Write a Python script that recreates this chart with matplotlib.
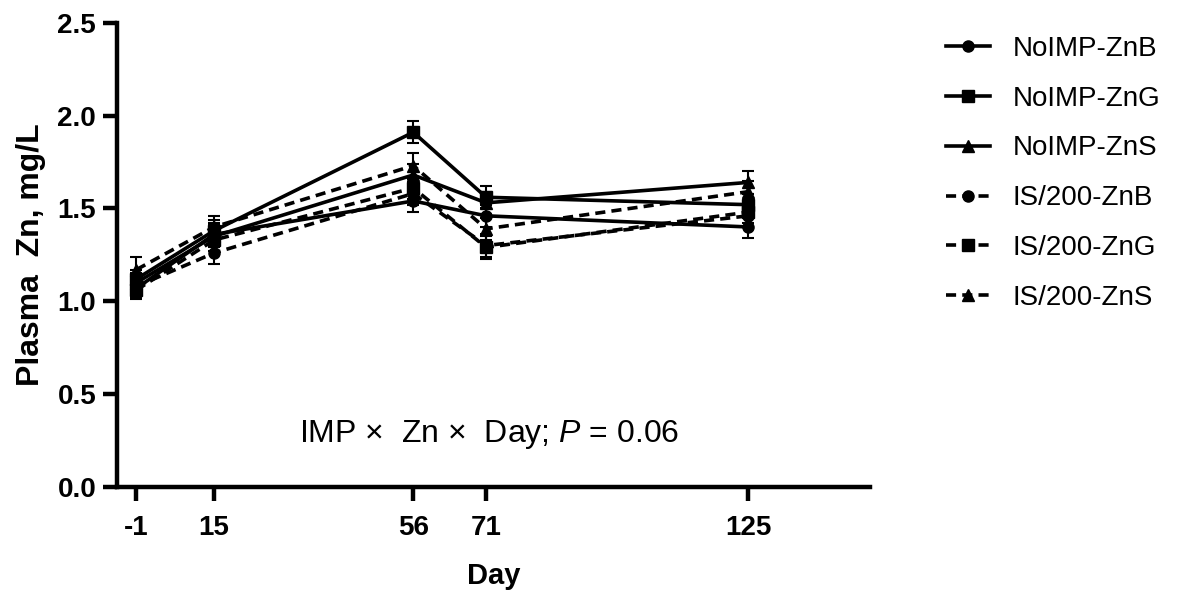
import matplotlib
matplotlib.use("Agg")
import matplotlib.pyplot as plt
from matplotlib.lines import Line2D

plt.rcParams['font.family'] = ['Liberation Sans', 'DejaVu Sans']
plt.rcParams['mathtext.fontset'] = 'custom'
plt.rcParams['mathtext.rm'] = 'Liberation Sans'
plt.rcParams['mathtext.it'] = 'Liberation Sans:italic'

days = [-1, 15, 56, 71, 125]
day_labels = ['-1', '15', '56', '71', '125']
labels = ['NoIMP-ZnB', 'NoIMP-ZnG', 'NoIMP-ZnS', 'IS/200-ZnB', 'IS/200-ZnG', 'IS/200-ZnS']

# mean plasma Zn (mg/L) per group
noimp_znb = [1.07, 1.36, 1.54, 1.46, 1.40]
noimp_zng = [1.12, 1.38, 1.91, 1.56, 1.52]
noimp_zns = [1.10, 1.35, 1.68, 1.53, 1.64]
is200_znb = [1.08, 1.26, 1.58, 1.30, 1.46]
is200_zng = [1.06, 1.33, 1.61, 1.29, 1.48]
is200_zns = [1.17, 1.40, 1.73, 1.39, 1.59]

# standard errors
noimp_znb_se = [0.05, 0.06, 0.06, 0.06, 0.06]
noimp_zng_se = [0.05, 0.06, 0.06, 0.06, 0.06]
noimp_zns_se = [0.05, 0.06, 0.06, 0.06, 0.06]
is200_znb_se = [0.05, 0.06, 0.06, 0.06, 0.06]
is200_zng_se = [0.05, 0.06, 0.06, 0.06, 0.06]
is200_zns_se = [0.07, 0.06, 0.07, 0.06, 0.06]

series = [noimp_znb, noimp_zng, noimp_zns, is200_znb, is200_zng, is200_zns]
errors = [noimp_znb_se, noimp_zng_se, noimp_zns_se, is200_znb_se, is200_zng_se, is200_zns_se]
markers = ['o', 's', '^', 'o', 's', '^']
dash = (0, (2.8, 1.7))
styles = ['-', '-', '-', dash, dash, dash]

fig = plt.figure(figsize=(11.85, 5.92), dpi=100)
ax = fig.add_axes([0.0987, 0.1774, 0.6354, 0.7843])

lw = 2.6
for vals, err, mk, ls in zip(series, errors, markers, styles):
    ax.errorbar(days, vals, yerr=err, color='black', linestyle=ls, linewidth=lw,
                marker=mk, markersize=8, capsize=4, capthick=1.5, elinewidth=1.5)

ax.set_xlim(-5, 150)
ax.set_ylim(0, 2.5)
ax.set_xticks(days)
ax.set_xticklabels(day_labels)
ax.set_yticks([0.0, 0.5, 1.0, 1.5, 2.0, 2.5])
ax.set_yticklabels(['0.0', '0.5', '1.0', '1.5', '2.0', '2.5'])

for side in ['top', 'right']:
    ax.spines[side].set_visible(False)
for side in ['left', 'bottom']:
    ax.spines[side].set_linewidth(3.2)

ax.tick_params(direction='out', length=10, width=3.2, labelsize=20, pad=5)
ax.tick_params(axis='x', pad=10)
for t in ax.get_xticklabels() + ax.get_yticklabels():
    t.set_fontweight('bold')

ax.set_xlabel('Day', fontsize=21, fontweight='bold', labelpad=15)
ax.set_ylabel('Plasma  Zn, mg/L', fontsize=23, fontweight='bold', labelpad=8)

ax.text(0.494, 0.113, 'IMP \u00d7  Zn \u00d7  Day; $\\mathit{P}$ = 0.06',
        transform=ax.transAxes, ha='center', va='center', fontsize=23)

handles = [Line2D([], [], color='black', linestyle=ls, linewidth=lw, marker=mk, markersize=8)
           for mk, ls in zip(markers, styles)]
fig.legend(handles, labels, loc='upper left', bbox_to_anchor=(0.777, 0.982),
           frameon=False, fontsize=20, handlelength=1.6, labelspacing=0.86,
           handletextpad=0.8)

fig.savefig('out.png', dpi=100)
